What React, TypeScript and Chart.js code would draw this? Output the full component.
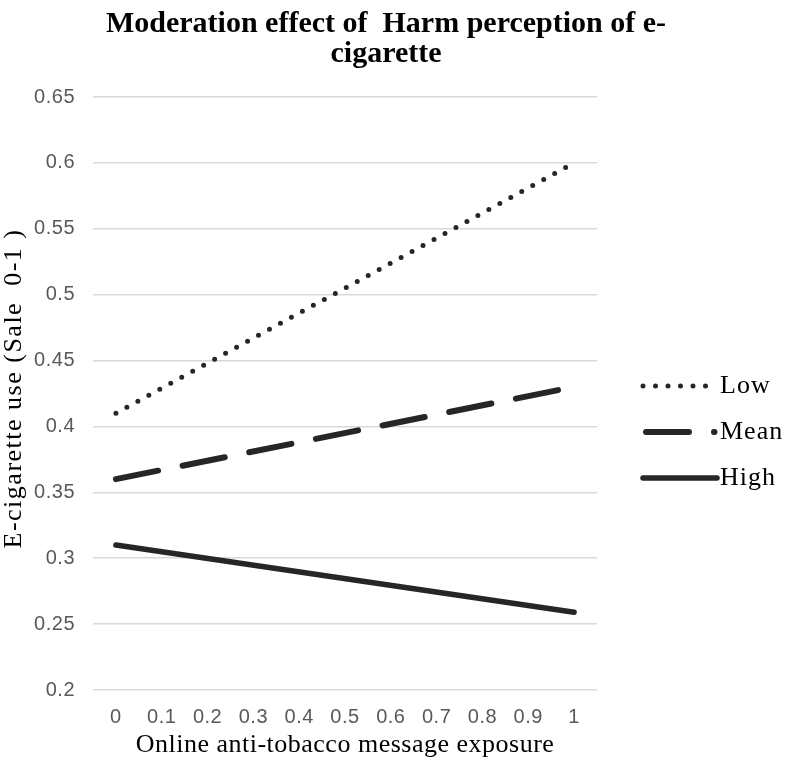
import React, { useEffect, useRef } from "react";
import { Chart, registerables } from "chart.js";

Chart.register(...registerables);

const titleLines = ["Moderation effect of  Harm perception of e-", "cigarette"];
const categories = ["0", "0.1", "0.2", "0.3", "0.4", "0.5", "0.6", "0.7", "0.8", "0.9", "1"];
const lowValues = [0.41, null, null, null, null, null, null, null, null, null, 0.6];
const meanValues = [0.36, null, null, null, null, null, null, null, null, null, 0.43];
const highValues = [0.31, null, null, null, null, null, null, null, null, null, 0.259];
const seriesNames = ["Low", "Mean", "High"];
const yMin = 0.2;
const yMax = 0.65;
const yStep = 0.05;
const xTitle = "Online anti-tobacco message exposure";
const yTitle = "E-cigarette use (Sale  0-1 )";

const LINE = "#262626";
const SERIF = "'Liberation Serif', 'Times New Roman', serif";
const SANS = "'Liberation Sans', Arial, sans-serif";

const dashes: number[][] = [[0, 12.5], [43, 25], []];
const widths = [5, 6, 5.5];

const spacingPlugin = {
  id: "spacing",
  beforeDraw(chart: any) {
    chart.ctx.letterSpacing = "0.5px";
  },
};

const overlayPlugin = {
  id: "overlay",
  afterDraw(chart: any) {
    const { ctx, chartArea } = chart;
    ctx.save();
    ctx.fillStyle = "#000";
    // Title
    ctx.letterSpacing = "0px";
    ctx.font = `bold 30px ${SERIF}`;
    ctx.textAlign = "center";
    ctx.textBaseline = "alphabetic";
    titleLines.forEach((t, i) => ctx.fillText(t, 386, 32 + i * 30));
    // X axis title
    ctx.letterSpacing = "0.5px";
    ctx.font = `26px ${SERIF}`;
    ctx.textBaseline = "middle";
    ctx.fillText(xTitle, (chartArea.left + chartArea.right) / 2, 745);
    // Y axis title
    ctx.save();
    ctx.translate(14, (chartArea.top + chartArea.bottom) / 2 - 5);
    ctx.rotate(-Math.PI / 2);
    ctx.letterSpacing = "1.5px";
    ctx.fillText(yTitle, 0, 0);
    ctx.restore();
    // Legend
    const items = chart.data.datasets;
    const ys = [289, 335, 381];
    const starts = [643, 646, 643];
    const ends = [707, 714.5, 717];
    items.forEach((ds: any, i: number) => {
      const y = chartArea.top + ys[i];
      ctx.beginPath();
      ctx.strokeStyle = LINE;
      ctx.lineWidth = widths[i];
      ctx.lineCap = "round";
      ctx.setLineDash(dashes[i]);
      ctx.moveTo(starts[i], y);
      ctx.lineTo(ends[i], y);
      ctx.stroke();
      ctx.setLineDash([]);
      ctx.fillStyle = "#000";
      ctx.letterSpacing = "1px";
      ctx.font = `26px ${SERIF}`;
      ctx.textAlign = "left";
      ctx.textBaseline = "middle";
      ctx.fillText(ds.label, 720, y);
    });
    ctx.restore();
  },
};

export default function App() {
  const ref = useRef<HTMLCanvasElement>(null);
  useEffect(() => {
    document.body.style.margin = "0";
    const sets = [lowValues, meanValues, highValues];
    const chart = new Chart(ref.current!, {
      type: "line",
      data: {
        labels: categories,
        datasets: sets.map((vals, i) => ({
          label: seriesNames[i],
          data: vals,
          borderColor: LINE,
          borderWidth: widths[i],
          borderDash: dashes[i],
          borderCapStyle: "round",
          pointRadius: 0,
          spanGaps: true,
          tension: 0,
          fill: false,
        })),
      },
      options: {
        animation: false,
        responsive: false,
        maintainAspectRatio: false,
        layout: { padding: { top: 97, right: 190, left: 0, bottom: 0 } },
        plugins: {
          legend: { display: false },
          title: { display: false },
          tooltip: { enabled: false },
        },
        scales: {
          x: {
            offset: true,
            grid: { display: false },
            border: { display: false },
            ticks: {
              color: "#595959",
              font: { family: SANS, size: 20 },
              padding: 7,
              maxRotation: 0,
              autoSkip: false,
            },
            afterFit(scale: any) {
              scale.height = 75;
            },
          },
          y: {
            min: yMin,
            max: yMax,
            grid: { color: "#d9d9d9", lineWidth: 1.5, drawTicks: false },
            border: { display: false },
            ticks: {
              stepSize: yStep,
              color: "#595959",
              font: { family: SANS, size: 20 },
              padding: 18,
              callback: (v: any) => String(parseFloat(Number(v).toFixed(2))),
            },
            afterFit(scale: any) {
              scale.width = 93;
            },
          },
        },
      },
      plugins: [spacingPlugin, overlayPlugin],
    });
    return () => chart.destroy();
  }, []);
  return <canvas ref={ref} width={787} height={765} style={{ display: "block" }} />;
}
